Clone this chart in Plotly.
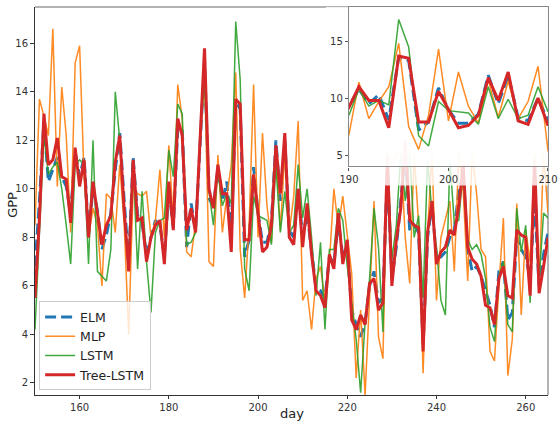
import plotly.graph_objects as go

days = list(range(150, 266))

tree_lstm = [
    5.5, 8.8, 13.1, 11.0, 11.2, 12.1, 10.5, 10.4, 8.6, 11.7,
    10.1, 11.2, 8.0, 10.3, 9.0, 7.7, 8.5, 8.9, 11.1, 12.2,
    9.1, 6.6, 11.2, 8.7, 8.8, 7.0, 8.0, 8.5, 8.7, 6.9,
    10.3, 8.3, 12.9, 12.2, 8.3, 9.2, 8.2, 12.0, 15.8, 10.0,
    9.2, 11.0, 9.8, 9.8, 7.4, 13.7, 13.5, 7.9, 7.9, 10.6,
    9.0, 7.4, 7.6, 8.5, 11.8, 9.8, 12.3, 8.0, 7.7, 10.0,
    7.6, 9.4, 7.3, 5.8, 5.6, 5.1, 7.3, 6.7, 9.0, 6.9,
    7.9, 4.6, 4.2, 4.8, 4.4, 6.1, 6.3, 5.0, 5.3, 11.3,
    6.0, 7.9, 9.2, 12.0, 8.7, 8.5, 8.4, 3.3, 8.2, 9.5,
    6.9, 7.4, 7.6, 8.3, 8.1, 9.3, 11.0, 7.6, 7.1, 6.9,
    6.4, 5.2, 5.1, 4.4, 6.3, 6.8, 5.6, 5.5, 8.3, 8.1,
    8.0, 5.6, 11.2, 5.7, 6.8, 8.0,
]

elm = [
    6.8, 9.5, 12.8, 10.3, 10.8, 11.3, 10.5, 10.1, 9.0, 11.5,
    10.5, 11.3, 8.2, 10.0, 9.1, 7.5, 8.1, 9.0, 10.8, 12.3,
    9.5, 7.0, 11.3, 8.9, 8.6, 7.3, 8.0, 8.7, 8.5, 7.2,
    10.0, 8.4, 12.5, 12.5, 7.6, 9.4, 8.3, 12.0, 15.3, 9.6,
    9.3, 10.8, 9.5, 10.3, 8.1, 13.6, 13.3, 7.2, 7.9, 10.9,
    9.0, 7.8, 7.8, 8.6, 12.0, 9.5, 12.0, 8.3, 8.0, 10.0,
    8.0, 9.0, 7.5, 5.9, 5.8, 5.5, 7.2, 6.9, 8.7, 7.2,
    7.6, 5.0, 4.4, 3.9, 4.5, 6.0, 6.6, 5.3, 5.5, 10.8,
    6.3, 7.6, 9.5, 11.6, 8.3, 8.5, 8.2, 3.6, 8.0, 9.4,
    7.1, 7.2, 7.4, 8.0, 8.3, 9.9, 10.6, 7.5, 6.6, 6.8,
    6.4, 5.8, 5.2, 4.3, 6.6, 7.0, 4.6, 4.9, 8.0, 7.5,
    7.2, 6.3, 9.6, 6.0, 7.3, 8.2,
]

lstm = [
    4.2, 8.5, 12.2, 10.6, 10.9, 11.1, 10.0, 8.5, 6.9, 11.0,
    11.2, 11.0, 6.9, 12.0, 6.6, 6.4, 6.2, 7.5, 14.0, 12.0,
    8.8, 7.0, 11.0, 6.7, 9.9, 7.0, 4.9, 8.2, 8.7, 8.8,
    11.6, 10.5, 13.5, 13.1, 7.7, 7.8, 8.2, 12.1, 14.5, 9.9,
    8.5, 10.8, 9.3, 9.8, 9.4, 16.9, 14.5, 6.7, 5.8, 9.7,
    8.9, 8.8, 8.7, 7.7, 11.0, 8.2, 9.9, 8.2, 8.5, 11.0,
    8.8, 10.0, 8.0, 5.6, 7.8, 4.2, 7.5, 7.5, 9.2, 8.7,
    6.8, 5.3, 3.8, 1.6, 4.5, 6.3, 9.2, 7.6, 4.1, 11.5,
    7.1, 8.5, 11.5, 9.5, 11.5, 8.0, 8.9, 5.5, 11.2, 9.0,
    7.6, 5.4, 4.8, 11.2, 8.6, 8.7, 10.8, 7.9, 7.5, 7.7,
    7.3, 6.3, 4.3, 3.7, 6.4, 7.0, 4.4, 4.1, 9.2, 7.4,
    8.5, 5.3, 11.3, 6.2, 9.0, 8.8,
]

mlp = [
    8.5, 13.7, 13.0, 12.2, 16.6, 10.1, 14.2, 12.2, 8.2, 15.2,
    15.9, 10.5, 8.0, 9.2, 8.5, 6.0, 9.8, 9.6, 8.2, 11.0,
    8.5, 4.0, 10.0, 9.8, 9.7, 9.9, 8.0, 8.7, 10.8, 8.0,
    11.8, 8.6, 14.3, 12.9, 7.4, 7.2, 8.6, 11.5, 14.8, 7.0,
    6.8, 11.4, 8.2, 9.7, 11.0, 14.8, 7.5, 5.5, 8.5, 14.3,
    8.0, 12.3, 9.3, 7.8, 11.6, 8.3, 11.5, 8.2, 9.7, 12.8,
    5.4, 5.8, 4.2, 6.3, 6.8, 5.4, 7.0, 10.0, 8.4, 9.7,
    8.0, 6.5, 2.2, 5.0, 1.5, 5.5, 9.5, 3.9, 3.0, 11.5,
    11.0, 11.5, 11.5, 8.0, 6.1, 11.5, 8.5, 2.4, 8.2, 11.5,
    5.4, 8.0, 8.7, 9.5, 6.6, 11.5, 9.9, 6.2, 11.5, 9.8,
    7.5, 7.2, 3.3, 2.9, 6.0, 8.8, 2.3, 3.8, 9.4, 4.8,
    8.3, 7.0, 11.5, 6.0, 11.5, 9.0,
]

main_xticks = [160, 180, 200, 220, 240, 260]
main_yticks = [2, 4, 6, 8, 10, 12, 14, 16]
inset_xticks = [190, 200, 210]
inset_yticks = [5, 10, 15]

series = [
    ("ELM", elm, "#1f77b4", 3.0, "11px,5px", 1.0),
    ("MLP", mlp, "#ff7f0e", 1.5, "solid", 0.9),
    ("LSTM", lstm, "#2ca02c", 1.5, "solid", 0.9),
    ("Tree-LSTM", tree_lstm, "#d62728", 3.0, "solid", 1.0),
]

fig = go.Figure()
for name, vals, color, w, dash, op in series:
    fig.add_trace(go.Scatter(x=days, y=vals, mode="lines", name=name,
                             line=dict(color=color, width=w, dash=dash),
                             opacity=op, xaxis="x", yaxis="y"))
# invisible subplot acting as the translucent white box behind the inset
fig.add_trace(go.Scatter(x=[None], y=[None], showlegend=False, xaxis="x2", yaxis="y2"))
for name, vals, color, w, dash, op in series:
    fig.add_trace(go.Scatter(x=days, y=vals, mode="lines", name=name,
                             line=dict(color=color, width=w, dash=dash),
                             opacity=op, showlegend=False, xaxis="x3", yaxis="y3"))

tickfont = dict(family="DejaVu Sans", size=10, color="#333")
fig.update_layout(
    width=558, height=421,
    margin=dict(l=35, r=10, t=7, b=26, autoexpand=False),
    paper_bgcolor="white",
    plot_bgcolor="rgba(255,255,255,0.8)",
    font=dict(family="DejaVu Sans", color="#333"),
    showlegend=True,
    hovermode=False,
    legend=dict(x=0.008, y=0.012, xanchor="left", yanchor="bottom",
                bgcolor="rgba(255,255,255,0.8)", bordercolor="#cccccc", borderwidth=1,
                font=dict(family="DejaVu Sans", size=12.5, color="#222"),
                tracegroupgap=0),
    xaxis=dict(domain=[0, 1], range=[150, 265], tickvals=main_xticks,
               ticks="outside", ticklen=3, tickcolor="#333", tickfont=tickfont,
               showgrid=False, zeroline=False, showline=True, linecolor="#333",
               linewidth=1, anchor="y", automargin=False),
    yaxis=dict(domain=[0, 1], range=[1.5, 17.5], tickvals=main_yticks,
               ticks="outside", ticklen=4, tickcolor="#333", tickfont=tickfont,
               showgrid=False, zeroline=False, showline=True, linecolor="#333",
               linewidth=1, anchor="x", automargin=False),
    xaxis2=dict(domain=[0.567, 1.0], range=[0, 1], visible=False, anchor="y2",
                automargin=False),
    yaxis2=dict(domain=[0.540, 1.0], range=[0, 1], visible=False, anchor="x2",
                automargin=False),
    xaxis3=dict(domain=[0.612, 1.0], range=[190, 210], tickvals=inset_xticks,
                ticks="outside", ticklen=3, tickcolor="#555", tickfont=tickfont,
                showgrid=False, zeroline=False, showline=True, mirror=True,
                linecolor="#888", linewidth=1.2, anchor="y3", automargin=False),
    yaxis3=dict(domain=[0.589, 1.0], range=[4, 18], tickvals=inset_yticks,
                ticks="outside", ticklen=3, tickcolor="#555", tickfont=tickfont,
                showgrid=False, zeroline=False, showline=True, mirror=True,
                linecolor="#888", linewidth=1.2, anchor="x3", automargin=False),
    shapes=[
        dict(type="line", xref="paper", yref="paper", x0=0, x1=1, y0=1, y1=1,
             line=dict(color="#999", width=1.5), layer="below"),
        dict(type="line", xref="paper", yref="paper", x0=1, x1=1, y0=0, y1=1,
             line=dict(color="#999", width=1.5), layer="below"),
    ],
    annotations=[
        dict(text="day", xref="paper", yref="paper", x=0.5, y=-0.047,
             xanchor="center", yanchor="middle", showarrow=False,
             font=dict(family="DejaVu Sans", size=13, color="#222")),
        dict(text="GPP", xref="paper", yref="paper", x=-0.043, y=0.49,
             xanchor="center", yanchor="middle", showarrow=False, textangle=-90,
             font=dict(family="DejaVu Sans", size=13, color="#222")),
    ],
)

fig.write_html("out.html",
               config={"displayModeBar": False, "responsive": False},
               post_script="document.body.style.margin='0';document.body.style.overflow='hidden';")
